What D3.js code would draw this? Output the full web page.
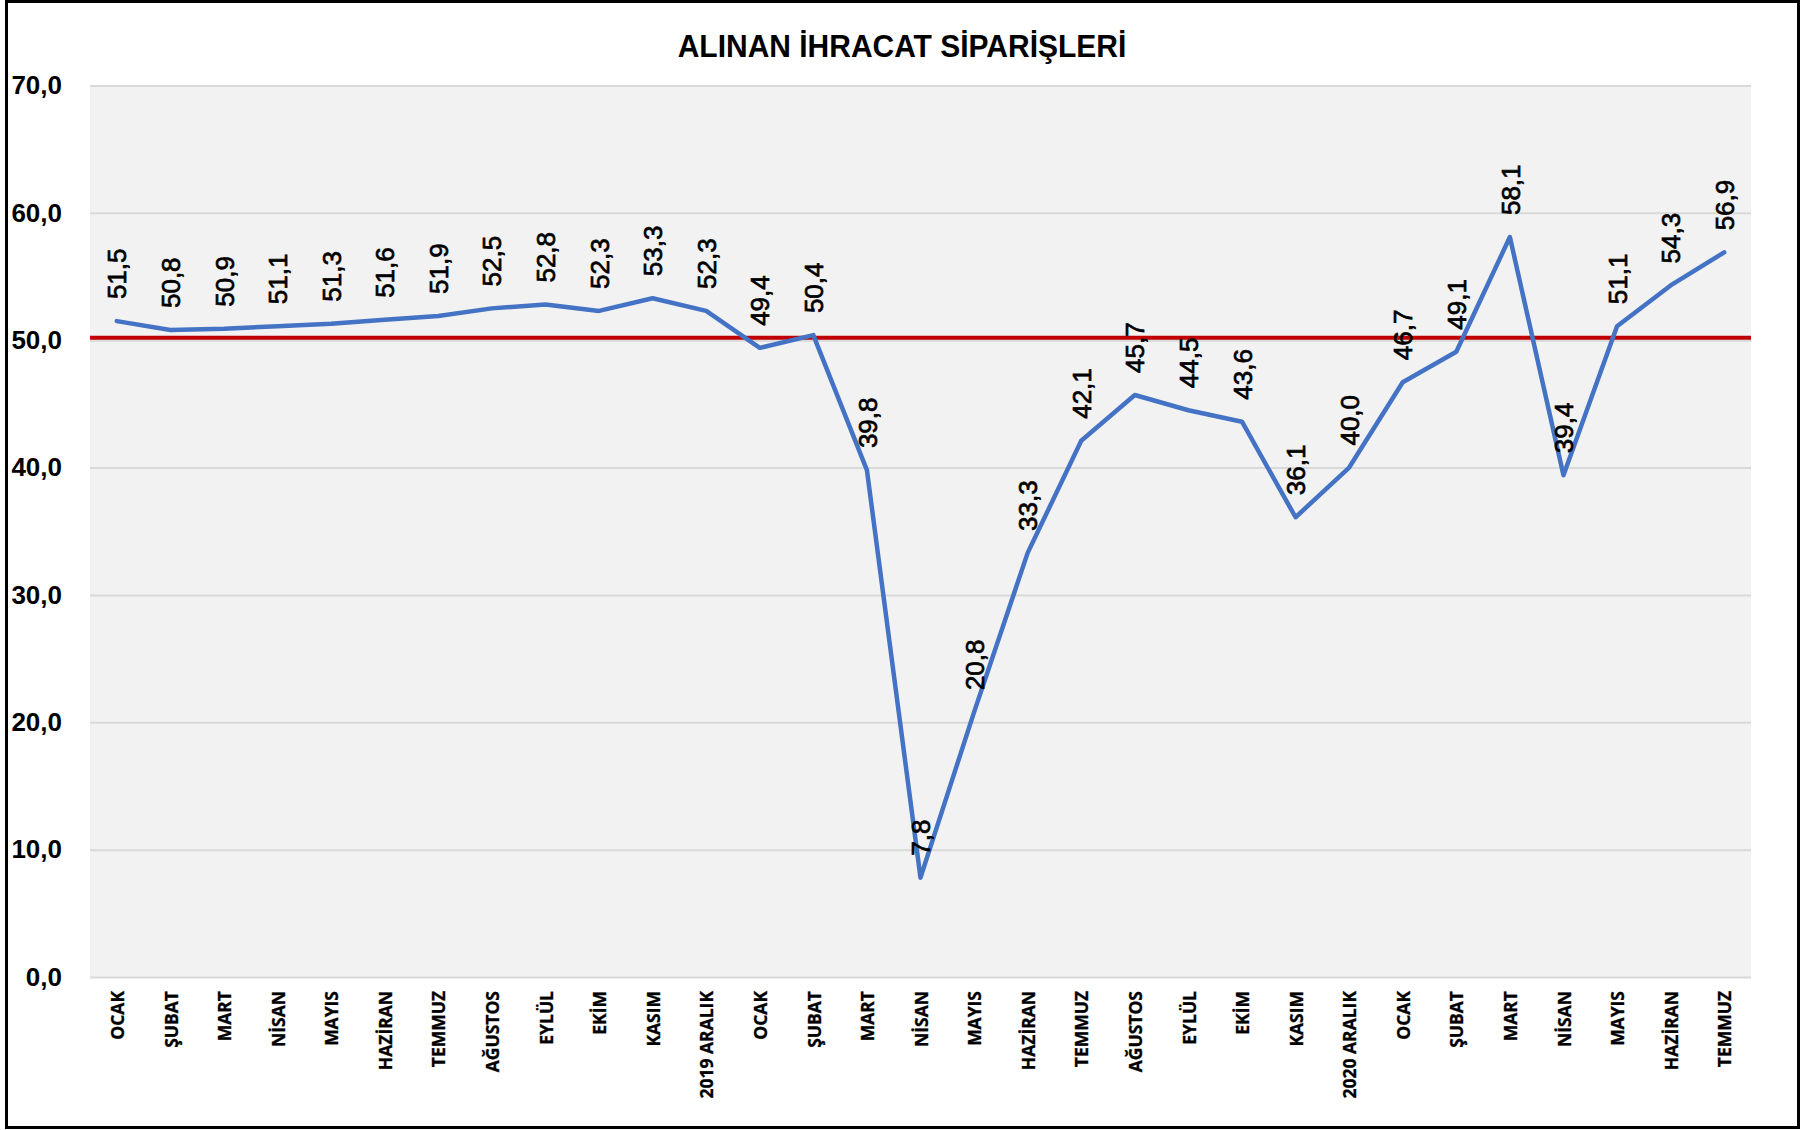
<!DOCTYPE html>
<html>
<head>
<meta charset="utf-8">
<script src="https://cdn.jsdelivr.net/npm/d3@7"></script>
<style>
    body { margin: 0; background: #ffffff; }
    svg { display: block; }
</style>
</head>
<body>
<svg id="chart" width="1810" height="1130"></svg>
<script>
// aylar (x ekseni)
const months = [
    "OCAK", "ŞUBAT", "MART", "NİSAN", "MAYIS", "HAZİRAN", "TEMMUZ", "AĞUSTOS", "EYLÜL", "EKİM", "KASIM", "2019 ARALIK",
    "OCAK", "ŞUBAT", "MART", "NİSAN", "MAYIS", "HAZİRAN", "TEMMUZ", "AĞUSTOS", "EYLÜL", "EKİM", "KASIM", "2020 ARALIK",
    "OCAK", "ŞUBAT", "MART", "NİSAN", "MAYIS", "HAZİRAN", "TEMMUZ"
];
// alınan ihracat siparişleri endeksi
const orders = [
    51.5, 50.8, 50.9, 51.1, 51.3, 51.6, 51.9, 52.5, 52.8, 52.3, 53.3, 52.3,
    49.4, 50.4, 39.8, 7.8, 20.8, 33.3, 42.1, 45.7, 44.5, 43.6, 36.1, 40.0,
    46.7, 49.1, 58.1, 39.4, 51.1, 54.3, 56.9
];
const yTicks = [0, 10, 20, 30, 40, 50, 60, 70];
const threshold = [50.2];
const title = "ALINAN İHRACAT SİPARİŞLERİ";

const width = 1810;
const height = 1130;
const plot = { left: 90, right: 1751, top: 85.5, bottom: 977 };
const lineColor = "#4472c4";
const redColor = "#c00000";
const gridColor = "#d9d9d9";

const trLocale = d3.formatLocale({ decimal: ",", thousands: ".", grouping: [3], currency: ["", " TL"] });
const fmt = trLocale.format(".1f");

const chart = d3.select("#chart");

const x = d3.scalePoint()
    .domain(d3.range(months.length))
    .range([plot.left, plot.right])
    .padding(0.5);

const y = d3.scaleLinear()
    .domain([0, 70])
    .range([plot.bottom, plot.top]);

// arka plan
chart.append("rect")
    .attr("x", 0).attr("y", 0)
    .attr("width", width).attr("height", height)
    .attr("fill", "#ffffff");

chart.append("rect")
    .attr("x", plot.left).attr("y", plot.top)
    .attr("width", plot.right - plot.left)
    .attr("height", plot.bottom - plot.top)
    .attr("fill", "#f2f2f2");

// y ekseni + grid
const yAxis = chart.append("g")
    .attr("transform", "translate(" + plot.left + ",0)")
    .call(d3.axisLeft(y)
        .tickValues(yTicks)
        .tickSize(-(plot.right - plot.left))
        .tickPadding(28)
        .tickFormat(fmt));

yAxis.select(".domain").remove();
yAxis.selectAll(".tick line")
    .attr("stroke", gridColor)
    .attr("stroke-width", 2);
yAxis.selectAll(".tick text")
    .attr("font-family", "'Liberation Sans', Arial, sans-serif")
    .attr("font-weight", "bold")
    .attr("font-size", 26)
    .attr("fill", "#000");

// x ekseni
const xAxis = chart.append("g")
    .attr("transform", "translate(0," + plot.bottom + ")")
    .call(d3.axisBottom(x)
        .tickSize(0)
        .tickFormat(i => months[i]));

xAxis.select(".domain").remove();
xAxis.selectAll(".tick text")
    .attr("font-family", "'Open Sans', 'DejaVu Sans', sans-serif")
    .attr("font-weight", "bold")
    .attr("font-size", 17.5)
    .attr("fill", "#000")
    .attr("stroke", "#000")
    .attr("stroke-width", 0.3)
    .attr("text-anchor", "end")
    .attr("transform", "rotate(-90) scale(1,1.06)")
    .attr("x", -14)
    .attr("y", 0)
    .attr("dy", "0.36em");

// 50 eşik çizgisi
chart.append("g")
    .selectAll("line")
    .data(threshold)
    .enter()
    .append("line")
    .attr("x1", plot.left)
    .attr("x2", plot.right)
    .attr("y1", d => y(d))
    .attr("y2", d => y(d))
    .attr("stroke", redColor)
    .attr("stroke-width", 4);

// seri
const line = d3.line()
    .x((d, i) => x(i))
    .y(d => y(d));

chart.append("path")
    .datum(orders)
    .attr("d", line)
    .attr("fill", "none")
    .attr("stroke", lineColor)
    .attr("stroke-width", 4.5)
    .attr("stroke-linejoin", "round")
    .attr("stroke-linecap", "round");

// veri etiketleri
chart.append("g")
    .selectAll("text")
    .data(orders)
    .enter()
    .append("text")
    .text(d => fmt(d))
    .attr("transform", (d, i) => "translate(" + x(i) + "," + (y(d) - 22) + ") rotate(-90)")
    .attr("dy", "0.37em")
    .attr("text-anchor", "start")
    .attr("font-family", "'Liberation Sans', Arial, sans-serif")
    .attr("font-size", 26)
    .attr("fill", "#000")
    .attr("stroke", "#000")
    .attr("stroke-width", 0.7);

// başlık
chart.append("text")
    .text(title)
    .attr("x", 902)
    .attr("y", 57)
    .attr("text-anchor", "middle")
    .attr("font-family", "'Liberation Sans', Arial, sans-serif")
    .attr("font-weight", "bold")
    .attr("font-size", 30)
    .attr("transform", "translate(0,-4) scale(1,1.07)")
    .attr("fill", "#000");

// çerçeve
chart.append("rect")
    .attr("x", 6.5).attr("y", 1.5)
    .attr("width", 1792).attr("height", 1126)
    .attr("fill", "none")
    .attr("stroke", "#000")
    .attr("stroke-width", 3);
</script>
</body>
</html>
